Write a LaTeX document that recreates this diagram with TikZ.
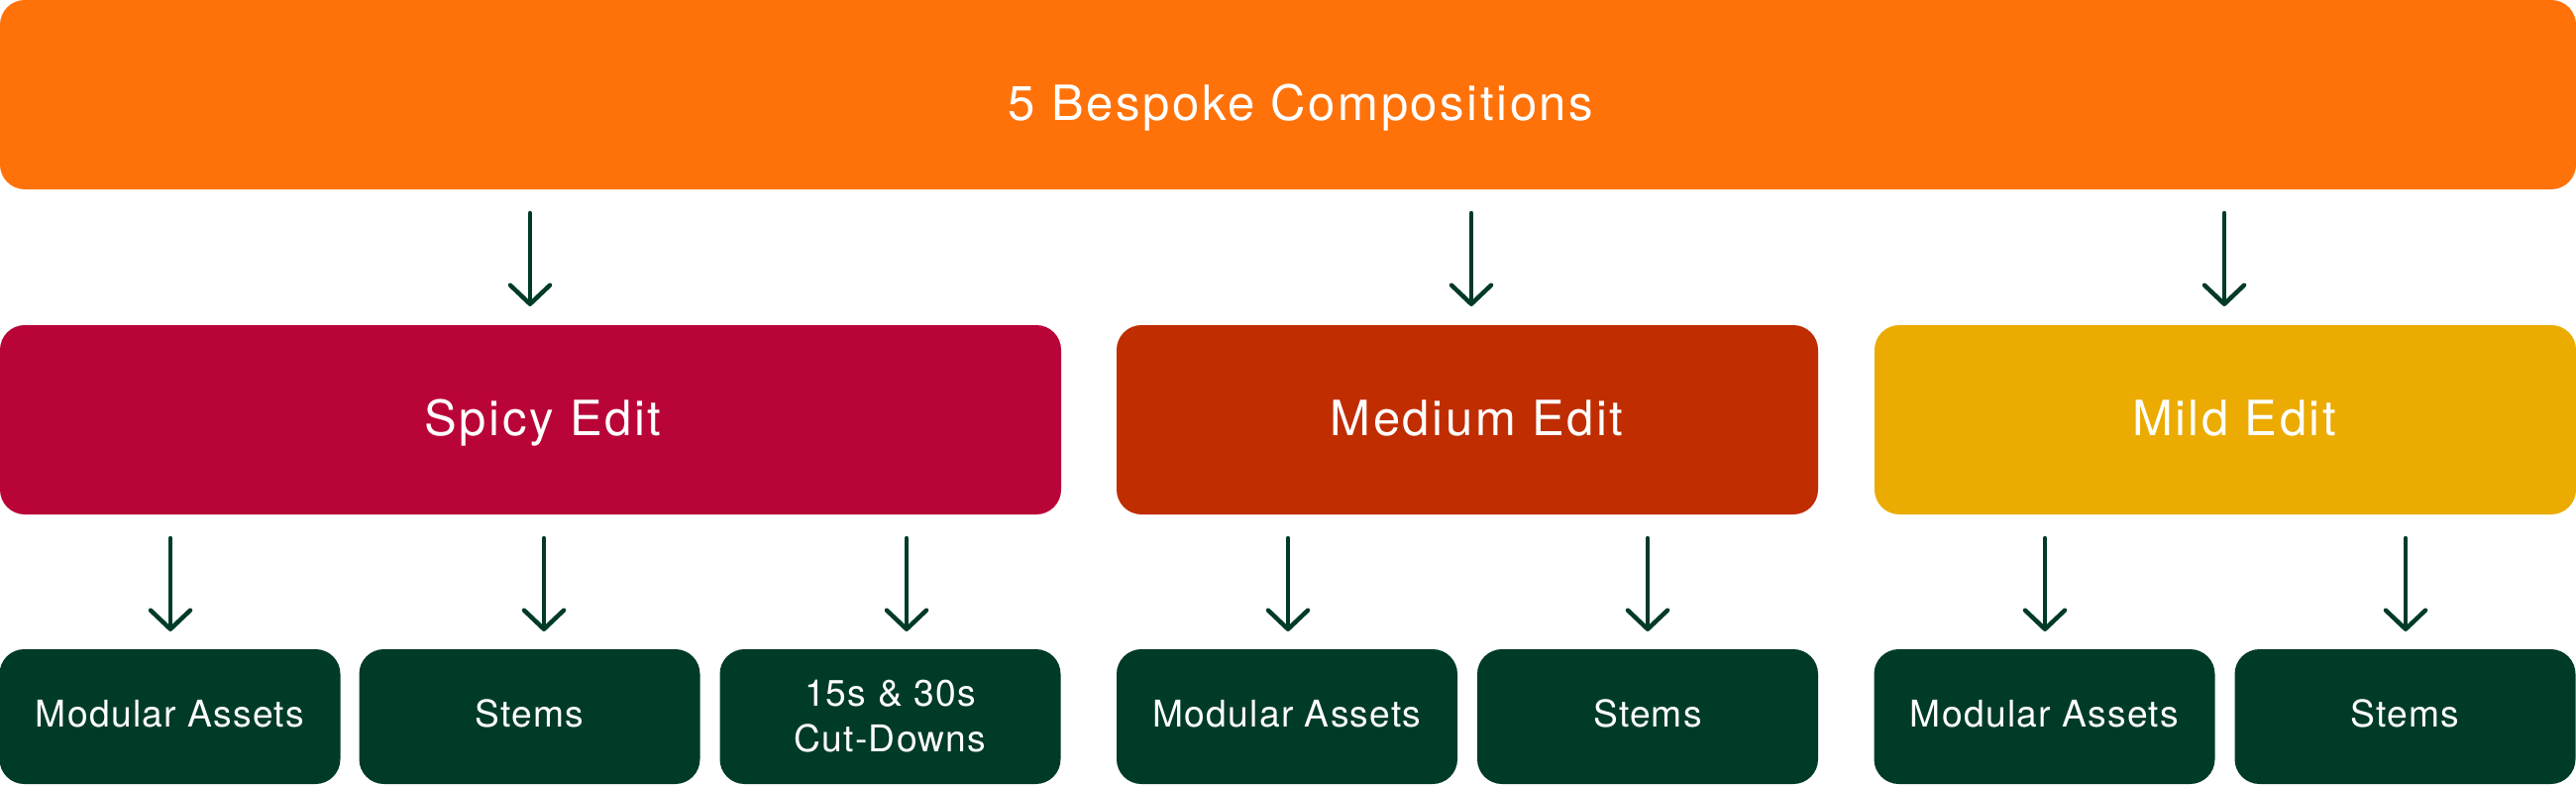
\documentclass[tikz,border=0pt]{standalone}
\usepackage{fontspec}
\setmainfont{TeX Gyre Heros}
\newfontfamily\bigfont{TeX Gyre Heros}[LetterSpace=5.3]
\newfontfamily\smallfont{TeX Gyre Heros}[LetterSpace=3.4]
\usetikzlibrary{arrows.meta}
\definecolor{cOrange}{HTML}{FF720A}
\definecolor{cSpicy}{HTML}{B90438}
\definecolor{cMedium}{HTML}{C02D00}
\definecolor{cMild}{HTML}{EBAB00}
\definecolor{cGreen}{HTML}{003B28}
\begin{document}
\begin{tikzpicture}[x=1pt,y=-1pt,
  box/.style={rounded corners=25pt, inner sep=0pt, outer sep=0pt, draw=none},
  bigbox/.style={box, minimum height=191pt},
  leaf/.style={box, fill=cGreen, minimum width=344pt, minimum height=136pt,
    text=white, font={\smallfont\fontsize{37.2}{46}\selectfont}},
  oneline/.style={text height=26.7pt, text depth=6pt},
  bigtext/.style={inner sep=0pt, text=white, text height=35.2pt, text depth=0pt,
    font={\bigfont\fontsize{49}{57}\selectfont}},
  arr/.style={draw=cGreen, line width=4.5pt, line cap=round,
    -{Straight Barb[length=19pt, width=40pt, line width=4.5pt, round]}}
]
\useasboundingbox (0,0) rectangle (2600,792);

% boxes
\node[bigbox, fill=cOrange, minimum width=2600pt] (top) at (1300,95.5) {};
\node[bigtext] (toptext) at (1313,104) {5 Bespoke Compositions};

\node[bigbox, fill=cSpicy, minimum width=1071pt] (spicy) at (535.5,423.5) {};
\node[bigtext] (spicytext) at (548,421.5) {Spicy Edit};

\node[bigbox, fill=cMedium, minimum width=708pt] (medium) at (1481,423.5) {};
\node[bigtext] (mediumtext) at (1490.5,421.5) {Medium Edit};

\node[bigbox, fill=cMild, minimum width=708pt] (mild) at (2246,423.5) {};
\node[bigtext] (mildtext) at (2255,421.5) {Mild Edit};

% leaves
\node[leaf, oneline] (s1) at (171.5,723) {Modular Assets};
\node[leaf, oneline] (s2) at (534.5,723) {Stems};
\node[leaf, align=center] (s3) at (898.5,723) {15s \& 30s\\Cut-Downs};
\node[leaf, oneline] (m1) at (1299,723) {Modular Assets};
\node[leaf, oneline] (m2) at (1663,723) {Stems};
\node[leaf, oneline] (d1) at (2063.5,723) {Modular Assets};
\node[leaf, oneline] (d2) at (2427.5,723) {Stems};

% arrow end points
\coordinate (a1s) at (535,215);  \coordinate (a1e) at (535,309);
\coordinate (a2s) at (1485,215); \coordinate (a2e) at (1485,309);
\coordinate (a3s) at (2245,215); \coordinate (a3e) at (2245,309);
\coordinate (b1s) at (172,543);  \coordinate (b1e) at (172,637);
\coordinate (b2s) at (549,543);  \coordinate (b2e) at (549,637);
\coordinate (b3s) at (915,543);  \coordinate (b3e) at (915,637);
\coordinate (b4s) at (1300,543); \coordinate (b4e) at (1300,637);
\coordinate (b5s) at (1663,543); \coordinate (b5e) at (1663,637);
\coordinate (b6s) at (2064,543); \coordinate (b6e) at (2064,637);
\coordinate (b7s) at (2428,543); \coordinate (b7e) at (2428,637);

\foreach \a in {a1,a2,a3,b1,b2,b3,b4,b5,b6,b7}
  \draw[arr] (\a s) -- (\a e);
\end{tikzpicture}
\end{document}
